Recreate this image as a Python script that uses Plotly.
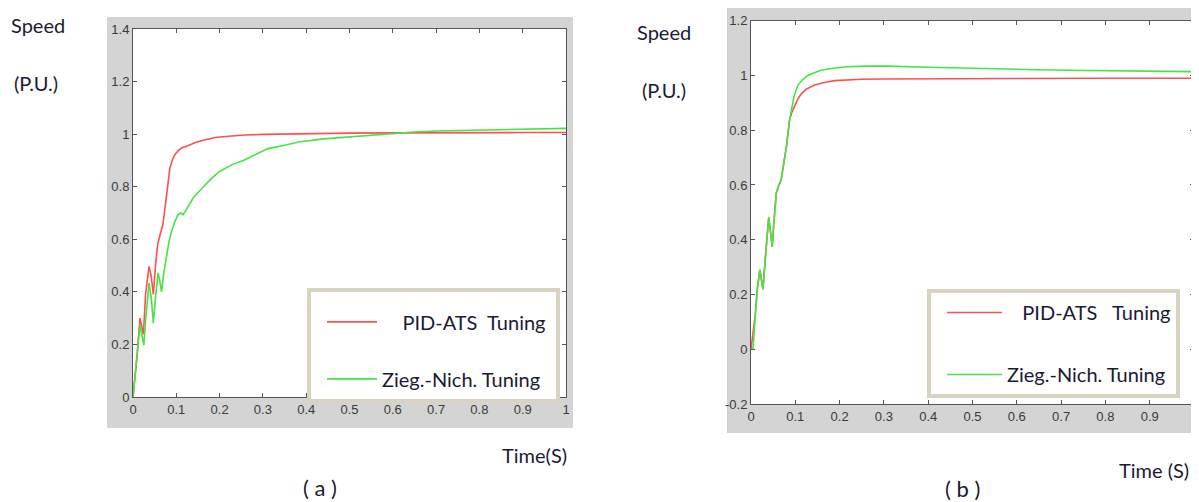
import plotly.graph_objects as go

# ---------------- data ----------------
# Panel (a)
t_a_pid = [0, 0.005, 0.0095, 0.016, 0.02, 0.024, 0.029, 0.033, 0.037, 0.042, 0.047,
           0.052, 0.057, 0.063, 0.069, 0.077, 0.085, 0.0925, 0.098, 0.105, 0.112,
           0.125, 0.144, 0.165, 0.19, 0.22, 0.26, 0.3, 0.4, 0.5, 0.6, 0.7, 0.8, 0.9, 1.0]
speed_a_pid = [0, 0.08, 0.156, 0.30, 0.27, 0.238, 0.39, 0.45, 0.497, 0.46, 0.39,
               0.50, 0.58, 0.62, 0.656, 0.76, 0.87, 0.909, 0.925, 0.938, 0.947,
               0.955, 0.968, 0.978, 0.987, 0.992, 0.997, 0.999, 1.002, 1.004, 1.005,
               1.006, 1.006, 1.006, 1.006]
t_a_zn = [0, 0.005, 0.0095, 0.016, 0.02, 0.025, 0.029, 0.033, 0.037, 0.042, 0.047,
          0.052, 0.058, 0.062, 0.066, 0.071, 0.077, 0.083, 0.089, 0.096, 0.104, 0.11,
          0.116, 0.122, 0.128, 0.14, 0.16, 0.18, 0.2, 0.23, 0.255, 0.28, 0.31, 0.35,
          0.386, 0.44, 0.5, 0.578, 0.65, 0.7, 0.8, 0.9, 1.0]
speed_a_zn = [0, 0.08, 0.16, 0.276, 0.24, 0.197, 0.29, 0.38, 0.434, 0.38, 0.282,
              0.38, 0.472, 0.44, 0.40, 0.47, 0.54, 0.59, 0.63, 0.665, 0.694, 0.70,
              0.694, 0.71, 0.73, 0.76, 0.795, 0.83, 0.858, 0.885, 0.90, 0.92, 0.944,
              0.958, 0.971, 0.982, 0.99, 1.0, 1.008, 1.012, 1.016, 1.02, 1.022]

# Panel (b)
t_b_pid = [0, 0.01, 0.014, 0.02, 0.024, 0.027, 0.032, 0.036, 0.04, 0.044, 0.048, 0.052,
           0.057, 0.062, 0.068, 0.074, 0.08, 0.087, 0.092, 0.098, 0.106, 0.114, 0.125,
           0.144, 0.165, 0.189, 0.22, 0.249, 0.3, 0.4, 0.5, 0.6, 0.7, 0.8, 0.9, 1.0]
speed_b_pid = [0, 0.131, 0.216, 0.29, 0.25, 0.219, 0.326, 0.41, 0.48, 0.43, 0.374, 0.47,
               0.57, 0.595, 0.618, 0.68, 0.74, 0.837, 0.865, 0.886, 0.915, 0.934, 0.95,
               0.965, 0.974, 0.981, 0.984, 0.986, 0.987, 0.988, 0.989, 0.99, 0.99,
               0.99, 0.99, 0.99]
t_b_zn = [0, 0.0045, 0.01, 0.014, 0.02, 0.024, 0.027, 0.032, 0.036, 0.04, 0.044, 0.048,
          0.052, 0.057, 0.062, 0.068, 0.074, 0.08, 0.087, 0.092, 0.097, 0.106, 0.117,
          0.129, 0.145, 0.159, 0.19, 0.219, 0.26, 0.309, 0.4, 0.532, 0.65, 0.758, 0.9, 1.0]
speed_b_zn = [0, 0, 0.131, 0.216, 0.29, 0.25, 0.219, 0.326, 0.41, 0.484, 0.43, 0.374,
              0.47, 0.57, 0.595, 0.618, 0.68, 0.74, 0.837, 0.88, 0.922, 0.965, 0.985,
              1.001, 1.012, 1.02, 1.027, 1.032, 1.034, 1.034, 1.03, 1.024, 1.021,
              1.018, 1.015, 1.014]

series_names_a = ["\u00a0\u00a0\u00a0\u00a0PID-ATS\u00a0 Tuning", "Zieg.-Nich. Tuning\u00a0\u00a0"]
series_names_b = ["\u00a0\u00a0\u00a0PID-ATS\u00a0\u00a0 Tuning", "Zieg.-Nich. Tuning"]

x_ticks = [0, 0.1, 0.2, 0.3, 0.4, 0.5, 0.6, 0.7, 0.8, 0.9, 1]
x_tick_labels = ["0", "0.1", "0.2", "0.3", "0.4", "0.5", "0.6", "0.7", "0.8", "0.9", "1"]
y_ticks_a = [0, 0.2, 0.4, 0.6, 0.8, 1.0, 1.2, 1.4]
y_tick_labels_a = ["0", "0.2", "0.4", "0.6", "0.8", "1", "1.2", "1.4"]
y_ticks_b = [-0.2, 0, 0.2, 0.4, 0.6, 0.8, 1.0, 1.2]
y_tick_labels_b = ["-0.2", "0", "0.2", "0.4", "0.6", "0.8", "1", "1.2"]

# ---------------- figure ----------------
OFF = 8                      # page body margin
W, H = 1199 - OFF, 502 - OFF
RED = "#ff5050"
GREEN = "#45e445"
TEXT = "#1a1a33"
FONT = "Lato, sans-serif"


def px(x):
    return (x - OFF) / W


def py(y):
    return 1 - (y - OFF) / H


fig = go.Figure()

fig.add_trace(go.Scatter(x=t_a_pid, y=speed_a_pid, mode="lines", name=series_names_a[0],
                         line=dict(color=RED, width=1.6), xaxis="x", yaxis="y",
                         legend="legend", legendgroup="a1"))
fig.add_trace(go.Scatter(x=t_a_zn, y=speed_a_zn, mode="lines", name=series_names_a[1],
                         line=dict(color=GREEN, width=1.6), xaxis="x", yaxis="y",
                         legend="legend", legendgroup="a2"))
fig.add_trace(go.Scatter(x=t_b_pid, y=speed_b_pid, mode="lines", name=series_names_b[0],
                         line=dict(color=RED, width=1.6), xaxis="x2", yaxis="y2",
                         legend="legend2", legendgroup="b1"))
fig.add_trace(go.Scatter(x=t_b_zn, y=speed_b_zn, mode="lines", name=series_names_b[1],
                         line=dict(color=GREEN, width=1.6), xaxis="x2", yaxis="y2",
                         legend="legend2", legendgroup="b2"))

tickfont = dict(family="Liberation Sans, Arial, sans-serif", size=13, color="#3a3a3a")
axis_common = dict(showgrid=False, zeroline=False, showline=True, linecolor="#555555",
                   linewidth=1, mirror="ticks", ticks="inside", ticklen=4,
                   tickcolor="#555555", tickfont=tickfont, fixedrange=True,
                   automargin=False, ticklabeloverflow="allow")

legend_common = dict(xanchor="left", yanchor="top", bgcolor="white",
                     bordercolor="#d9d4c1", borderwidth=4,
                     font=dict(family=FONT, size=20, color=TEXT),
                     traceorder="grouped", indentation=11)

fig.update_layout(
    width=W, height=H,
    margin=dict(l=0, r=0, t=0, b=0, pad=0),
    paper_bgcolor="white",
    plot_bgcolor="white",
    showlegend=True,
    xaxis=dict(domain=[px(133), px(566)], range=[0, 1], tickvals=x_ticks,
               ticktext=x_tick_labels, anchor="y", **axis_common),
    yaxis=dict(domain=[py(397), py(29)], range=[0, 1.4], tickvals=y_ticks_a,
               ticktext=y_tick_labels_a, anchor="x", **axis_common),
    xaxis2=dict(domain=[px(751), px(1194)], range=[0, 1], tickvals=x_ticks,
                ticktext=x_tick_labels, anchor="y2", **axis_common),
    yaxis2=dict(domain=[py(404), py(20.7)], range=[-0.2, 1.2], tickvals=y_ticks_b,
                ticktext=y_tick_labels_b, anchor="x2", **axis_common),
    legend=dict(x=px(307), y=py(288), tracegroupgap=28, itemwidth=50,
                title=dict(text="\u00a0", font=dict(size=8)), **legend_common),
    legend2=dict(x=px(927), y=py(289), tracegroupgap=33, itemwidth=55, **legend_common),
    shapes=[
        dict(type="rect", xref="paper", yref="paper", x0=px(107), x1=px(573),
             y0=py(428), y1=py(17), fillcolor="#d4d4d4", line=dict(width=0), layer="below"),
        dict(type="rect", xref="paper", yref="paper", x0=px(727), x1=1,
             y0=py(433), y1=1, fillcolor="#d4d4d4", line=dict(width=0), layer="below"),
        dict(type="rect", xref="x domain", yref="y domain", x0=0, x1=1, y0=0, y1=1,
             fillcolor="white", line=dict(width=0), layer="below"),
        dict(type="rect", xref="x2 domain", yref="y2 domain", x0=0, x1=1, y0=0, y1=1,
             fillcolor="white", line=dict(width=0), layer="below"),
    ],
)

labfont = dict(family=FONT, size=20, color=TEXT)
ann = [
    ("Speed", 38, 25), ("(P.U.)", 36, 83), ("Time(S)", 534, 455),
    ("Speed", 664, 32), ("(P.U.)", 664, 90), ("Time (S)", 1154, 470),
]
annotations = [dict(text=t, x=px(x), y=py(y), xref="paper", yref="paper",
                    xanchor="center", yanchor="middle", showarrow=False, font=labfont)
               for t, x, y in ann]
annotations += [
    dict(text="( a )", x=px(320), y=py(487), xref="paper", yref="paper",
         xanchor="center", yanchor="middle", showarrow=False,
         font=dict(family=FONT, size=22, color=TEXT)),
    dict(text="( b )", x=px(962), y=py(488), xref="paper", yref="paper",
         xanchor="center", yanchor="middle", showarrow=False,
         font=dict(family=FONT, size=22, color=TEXT)),
]
fig.update_layout(annotations=annotations)

fig.write_html("out.html")
